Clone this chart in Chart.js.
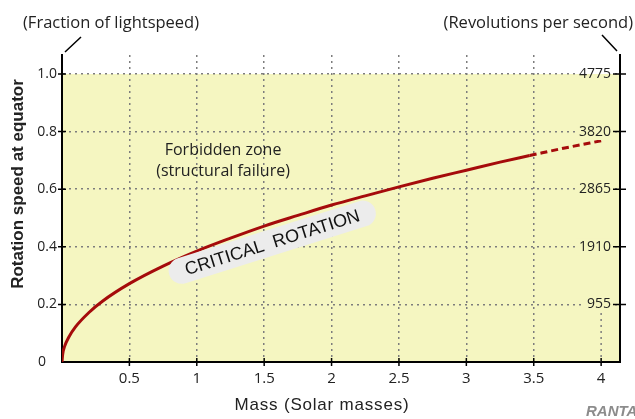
<!DOCTYPE html>
<html lang="en">
<head>
<meta charset="UTF-8">
<title>Critical rotation</title>
<script src="https://cdn.jsdelivr.net/npm/chart.js"></script>
<style>
  html, body { margin: 0; padding: 0; background: #fff; }
  canvas { display: block; }
</style>
</head>
<body>
<canvas id="rotChart" width="635" height="419"></canvas>
<script>
// critical rotation curve
// mass in solar masses, speed as fraction of lightspeed
const massSolid  = [0, 0.005, 0.02, 0.05, 0.1, 0.2, 0.3, 0.5, 0.75, 1, 1.25, 1.5, 1.75, 2, 2.25, 2.5, 2.75, 3, 3.25, 3.47];
const speedSolid = [0, 0.027, 0.055, 0.086, 0.122, 0.172, 0.211, 0.272, 0.333, 0.385, 0.43, 0.472, 0.509, 0.545, 0.577, 0.608, 0.638, 0.666, 0.694, 0.717];
// extrapolated part (dashed)
const massDashed  = [3.47, 3.75, 4.0];
const speedDashed = [0.717, 0.745, 0.768];

const xTickValues = [0.5, 1, 1.5, 2, 2.5, 3, 3.5, 4];
const yTickValues = [0, 0.2, 0.4, 0.6, 0.8, 1.0];
const revTickValues = [0.2, 0.4, 0.6, 0.8, 1.0];
const revTickLabels = ["955", "1910", "2865", "3820", "4775"];

const X_MAX = 4.14;
const Y_MAX = 1.066;
const ZONE_TOP = 1.0;

const YELLOW = "#f5f6c1";
const GRID = "#7d7d7d";
const RED = "#a50b0b";
const TICK_FONT = "'Open Sans', sans-serif";

function toPoints(xs, ys) {
  return xs.map((v, i) => ({ x: v, y: ys[i] }));
}

const decorations = {
  id: "decorations",
  beforeDraw(chart) {
    const { ctx, chartArea, scales: { y } } = chart;
    const top = y.getPixelForValue(ZONE_TOP);
    ctx.save();
    ctx.fillStyle = YELLOW;
    ctx.fillRect(chartArea.left, top, chartArea.right - chartArea.left, chartArea.bottom - top);
    ctx.restore();
  },
  beforeDatasetsDraw(chart) {
    // the x = 4 grid line only shows under the last label
    const { ctx, scales: { x, y } } = chart;
    const px = x.getPixelForValue(4);
    ctx.save();
    ctx.strokeStyle = GRID;
    ctx.lineWidth = 1.5;
    ctx.setLineDash([2, 4]);
    ctx.beginPath();
    ctx.moveTo(px, y.getPixelForValue(0.17));
    ctx.lineTo(px, y.getPixelForValue(0));
    ctx.stroke();
    ctx.restore();
  },
  afterDatasetsDraw(chart) {
    const { ctx, scales: { x, y } } = chart;
    // "critical rotation" pill
    ctx.save();
    ctx.translate(x.getPixelForValue(1.56), y.getPixelForValue(0.416));
    ctx.rotate(-17.5 * Math.PI / 180);
    ctx.fillStyle = "#ececec";
    ctx.beginPath();
    ctx.roundRect(-108, -13, 216, 26, 13);
    ctx.fill();
    ctx.fillStyle = "#111";
    ctx.font = "18px 'Liberation Sans'";
    ctx.textAlign = "center";
    ctx.textBaseline = "middle";
    ctx.fillText("CRITICAL  ROTATION", 0, 1);
    ctx.restore();

    // forbidden zone note
    ctx.save();
    ctx.fillStyle = "#222";
    ctx.font = "16px 'Open Sans'";
    ctx.textAlign = "center";
    ctx.textBaseline = "middle";
    ctx.fillText("Forbidden zone", x.getPixelForValue(1.195), y.getPixelForValue(0.735));
    ctx.fillText("(structural failure)", x.getPixelForValue(1.195), y.getPixelForValue(0.66));
    ctx.restore();
  },
  afterDraw(chart) {
    const { ctx, chartArea, scales: { x, y, y2 } } = chart;
    ctx.save();
    // tick marks crossing the axes
    ctx.strokeStyle = "#000";
    ctx.lineWidth = 1.5;
    ctx.beginPath();
    x.ticks.forEach(t => {
      const px = x.getPixelForValue(t.value);
      ctx.moveTo(px, chartArea.bottom - 4);
      ctx.lineTo(px, chartArea.bottom + 4);
    });
    y.ticks.forEach(t => {
      if (t.value === 0) return;
      const py = y.getPixelForValue(t.value);
      ctx.moveTo(chartArea.left - 4, py);
      ctx.lineTo(chartArea.left + 4, py);
    });
    y2.ticks.forEach(t => {
      const py = y2.getPixelForValue(t.value);
      ctx.moveTo(chartArea.right - 7, py);
      ctx.lineTo(chartArea.right + 6, py);
    });
    // leader lines to the unit notes
    ctx.moveTo(chartArea.left + 3, chartArea.top - 3);
    ctx.lineTo(chartArea.left + 19, chartArea.top - 18);
    ctx.moveTo(chartArea.right - 18, chartArea.top - 20);
    ctx.lineTo(chartArea.right - 3, chartArea.top - 4);
    ctx.stroke();

    // unit notes
    ctx.fillStyle = "#222";
    ctx.font = "16.5px 'Open Sans'";
    ctx.textBaseline = "alphabetic";
    ctx.textAlign = "left";
    ctx.fillText("(Fraction of lightspeed)", 23, 28);
    ctx.textAlign = "right";
    ctx.fillText("(Revolutions per second)", 633, 28);

    // axis titles
    ctx.textAlign = "center";
    ctx.textBaseline = "middle";
    ctx.letterSpacing = "0.8px";
    ctx.font = "17px 'Liberation Sans'";
    ctx.fillText("Mass (Solar masses)", 322, 405);
    ctx.letterSpacing = "0px";
    ctx.save();
    ctx.translate(18, 184);
    ctx.rotate(-Math.PI / 2);
    ctx.font = "bold 17px 'Liberation Sans'";
    ctx.fillText("Rotation speed at equator", 0, 0);
    ctx.restore();

    // watermark
    ctx.fillStyle = "#8c8c8c";
    ctx.font = "italic bold 15px 'Liberation Sans'";
    ctx.textAlign = "left";
    ctx.textBaseline = "alphabetic";
    ctx.fillText("RANTAN", 586, 416);
    ctx.restore();
  }
};

document.addEventListener("DOMContentLoaded", function () {
  const ctx = document.getElementById("rotChart").getContext("2d");

  const rotChart = new Chart(ctx, {
    type: "line",
    data: {
      datasets: [
        {
          label: "Critical rotation",
          data: toPoints(massSolid, speedSolid),
          borderColor: RED,
          borderWidth: 3,
          pointRadius: 0,
          cubicInterpolationMode: "monotone",
          yAxisID: "y"
        },
        {
          label: "Critical rotation (extrapolated)",
          data: toPoints(massDashed, speedDashed),
          borderColor: RED,
          borderWidth: 3,
          borderDash: [7, 4],
          pointRadius: 0,
          cubicInterpolationMode: "monotone",
          yAxisID: "y"
        }
      ]
    },
    options: {
      responsive: false,
      animation: false,
      layout: { padding: { top: 55, left: 0, right: 0, bottom: 0 } },
      plugins: {
        legend: { display: false },
        tooltip: { enabled: false }
      },
      scales: {
        x: {
          type: "linear",
          min: 0,
          max: X_MAX,
          afterBuildTicks: s => { s.ticks = xTickValues.map(v => ({ value: v })); },
          afterFit: s => { s.height = 57; },
          ticks: {
            color: "#222",
            padding: 8,
            font: { family: TICK_FONT, size: 15 },
            callback: v => String(v)
          },
          grid: {
            drawTicks: false,
            color: c => (c.tick && c.tick.value === 4) ? "rgba(0,0,0,0)" : GRID,
            lineWidth: 1.5
          },
          border: { display: true, color: "#000", width: 2, dash: [2, 4] }
        },
        y: {
          type: "linear",
          position: "left",
          min: 0,
          max: Y_MAX,
          afterBuildTicks: s => { s.ticks = yTickValues.map(v => ({ value: v })); },
          afterFit: s => { s.width = 62; },
          ticks: {
            color: "#222",
            padding: 5,
            font: { family: TICK_FONT, size: 14 },
            callback: v => v === 0 ? "0   " : v.toFixed(1)
          },
          grid: { drawTicks: false, color: GRID, lineWidth: 1.5 },
          border: { display: true, color: "#000", width: 2, dash: [2, 4] }
        },
        y2: {
          type: "linear",
          position: "right",
          min: 0,
          max: Y_MAX,
          afterBuildTicks: s => { s.ticks = revTickValues.map(v => ({ value: v })); },
          afterFit: s => { s.width = 15; },
          ticks: {
            color: "#222",
            mirror: true,
            padding: -9,
            z: 1,
            font: { family: TICK_FONT, size: 14 },
            callback: (v, i) => revTickLabels[i],
            showLabelBackdrop: true,
            backdropPadding: { x: 3, y: 0 },
            backdropColor: c => {
              if (c.tick && c.tick.value === ZONE_TOP) {
                // backdrop is drawn in label-local coordinates, split at the tick
                const g = c.chart.ctx.createLinearGradient(0, -12, 0, 12);
                g.addColorStop(0, "#ffffff");
                g.addColorStop(0.5, "#ffffff");
                g.addColorStop(0.5, YELLOW);
                g.addColorStop(1, YELLOW);
                return g;
              }
              return YELLOW;
            }
          },
          grid: { display: false, drawTicks: false },
          border: { display: true, color: "#000", width: 2 }
        }
      }
    },
    plugins: [decorations]
  });
});
</script>
</body>
</html>
